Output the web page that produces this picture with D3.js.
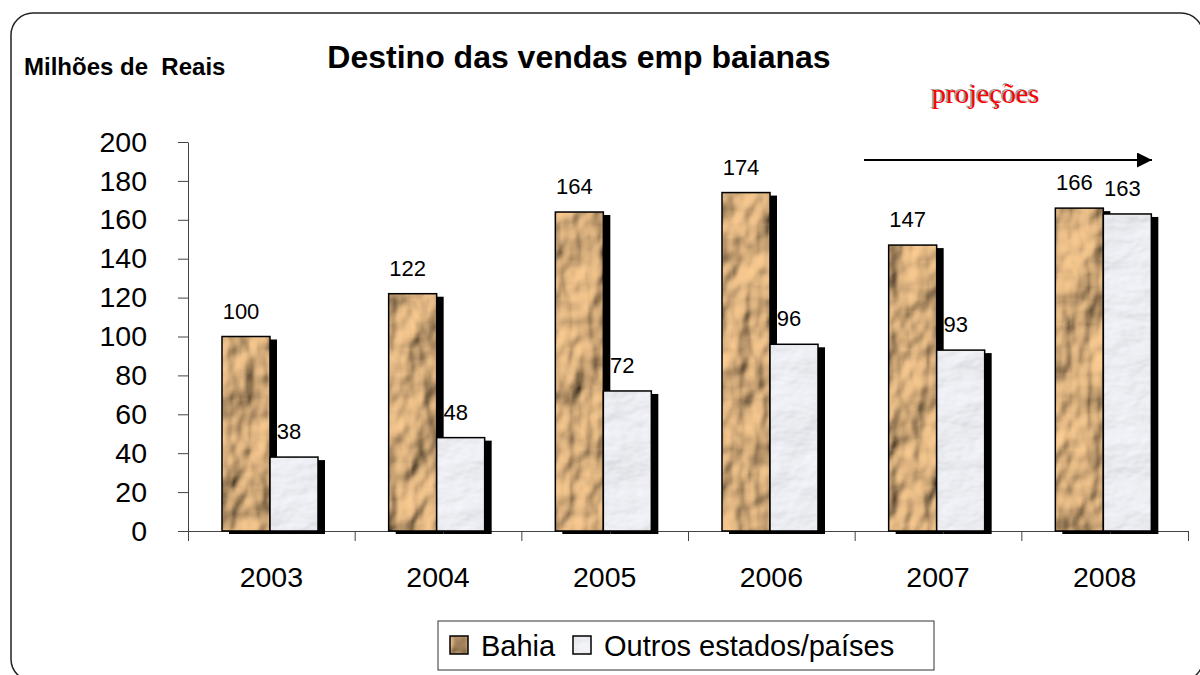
<!DOCTYPE html>
<html>
<head>
<meta charset="utf-8">
<script src="https://cdn.jsdelivr.net/npm/d3@7"></script>
<style>
  body { margin: 0; background: #fff; }
  svg { display: block; font-family: "Liberation Sans", Arial, sans-serif; }
</style>
</head>
<body>
<svg id="chart"></svg>
<script>
const years = ['2003', '2004', '2005', '2006', '2007', '2008'];
const bahia = [100, 122, 164, 174, 147, 166];
const outros = [38, 48, 72, 96, 93, 163];
const yTicks = [0, 20, 40, 60, 80, 100, 120, 140, 160, 180, 200];
const seriesNames = ['Bahia', 'Outros estados/países'];

const svgw = 1200;
const svgh = 675;
const svg = d3.select('#chart')
    .attr('width', svgw)
    .attr('height', svgh);

// textures: crumpled paper and marble
const defs = svg.append('defs');

const paper = defs.append('filter').attr('id', 'paper')
    .attr('x', 0).attr('y', 0).attr('width', 1).attr('height', 1);
paper.append('feTurbulence')
    .attr('type', 'fractalNoise')
    .attr('baseFrequency', '0.028 0.02')
    .attr('numOctaves', 3)
    .attr('seed', 7)
    .attr('result', 'n');
paper.append('feDiffuseLighting')
    .attr('in', 'n')
    .attr('surfaceScale', 10)
    .attr('diffuseConstant', 1.05)
    .attr('lighting-color', '#f8c990')
    .attr('result', 'l')
    .append('feDistantLight').attr('azimuth', 225).attr('elevation', 42);
paper.append('feComposite').attr('in', 'l').attr('in2', 'SourceGraphic').attr('operator', 'in');

const marble = defs.append('filter').attr('id', 'marble')
    .attr('x', 0).attr('y', 0).attr('width', 1).attr('height', 1);
marble.append('feTurbulence')
    .attr('type', 'fractalNoise')
    .attr('baseFrequency', '0.018 0.03')
    .attr('numOctaves', 4)
    .attr('seed', 3)
    .attr('result', 'n');
marble.append('feDiffuseLighting')
    .attr('in', 'n')
    .attr('surfaceScale', 3)
    .attr('diffuseConstant', 1)
    .attr('lighting-color', '#f6f7fc')
    .attr('result', 'l')
    .append('feDistantLight').attr('azimuth', 225).attr('elevation', 65);
marble.append('feComposite').attr('in', 'l').attr('in2', 'SourceGraphic').attr('operator', 'in');

const fills = ['url(#paper)', 'url(#marble)'];

// outer rounded frame
svg.append('rect')
    .attr('x', 11).attr('y', 13)
    .attr('width', 1192).attr('height', 668)
    .attr('rx', 22)
    .attr('fill', 'none')
    .attr('stroke', '#222')
    .attr('stroke-width', 1.5);

const xScale = d3.scaleBand()
    .domain(years)
    .range([188, 1188]);
const xInner = d3.scaleBand()
    .domain(seriesNames)
    .range([34, 130]);
const xEdges = d3.scaleLinear()
    .domain([0, years.length])
    .range([188, 1188]);
const yScale = d3.scaleLinear()
    .domain([0, 200])
    .range([531, 142]);

// y axis
const yAxis = d3.axisLeft(yScale)
    .tickValues(yTicks)
    .tickSize(10)
    .tickPadding(31)
    .tickSizeOuter(0);
const yg = svg.append('g')
    .attr('transform', 'translate(188,0)')
    .call(yAxis);
yg.selectAll('line, path').attr('stroke', '#444');
yg.selectAll('text')
    .attr('fill', '#000')
    .style('font-size', '28.5px')
    .style('font-family', '"Liberation Sans", Arial, sans-serif');

// x axis with ticks at category edges
const xAxis = d3.axisBottom(xEdges)
    .tickValues(d3.range(years.length + 1))
    .tickSize(10)
    .tickSizeOuter(0)
    .tickFormat('');
const xg = svg.append('g')
    .attr('transform', 'translate(0,531)')
    .call(xAxis);
xg.selectAll('line, path').attr('stroke', '#444');

svg.append('g').selectAll('text')
    .data(years)
    .join('text')
    .attr('x', d => xScale(d) + xScale.bandwidth() / 2)
    .attr('y', 587)
    .attr('text-anchor', 'middle')
    .style('font-size', '28.5px')
    .text(d => d);

// bars
const series = [bahia, outros];
const barGroup = svg.append('g');
years.forEach((yr, i) => {
    series.forEach((vals, s) => {
        const x0 = xScale(yr) + xInner(seriesNames[s]);
        const w = xInner.bandwidth();
        const top = yScale(vals[i]);
        const h = yScale(0) - top;
        barGroup.append('rect')
            .attr('x', x0 + 7).attr('y', top + 3)
            .attr('width', w).attr('height', h)
            .attr('fill', '#000');
        barGroup.append('rect')
            .attr('x', x0).attr('y', top)
            .attr('width', w).attr('height', h)
            .attr('fill', '#fff')
            .attr('filter', fills[s]);
        barGroup.append('rect')
            .attr('x', x0).attr('y', top)
            .attr('width', w).attr('height', h)
            .attr('fill', 'none')
            .attr('stroke', '#000')
            .attr('stroke-width', 1.5);
        barGroup.append('text')
            .attr('x', x0 + w / 2 - 5)
            .attr('y', top - 18)
            .attr('text-anchor', 'middle')
            .style('font-size', '22px')
            .text(vals[i]);
    });
});

// titles
svg.append('text')
    .attr('x', 579).attr('y', 68)
    .attr('text-anchor', 'middle')
    .style('font-size', '32px')
    .style('font-weight', 'bold')
    .text('Destino das vendas emp baianas');

svg.append('text')
    .attr('x', 24).attr('y', 75)
    .style('font-size', '24px')
    .style('font-weight', 'bold')
    .style('white-space', 'pre')
    .text('Milhões de  Reais');

// projections note + arrow
svg.append('text')
    .attr('x', 930).attr('y', 102)
    .style('font-family', '"Liberation Serif", "Times New Roman", serif')
    .style('font-size', '28px')
    .attr('fill', '#a0a0a0')
    .text('projeções');
svg.append('text')
    .attr('x', 932).attr('y', 103)
    .style('font-family', '"Liberation Serif", "Times New Roman", serif')
    .style('font-size', '28px')
    .attr('fill', '#ff0000')
    .text('projeções');

defs.append('marker')
    .attr('id', 'arrow')
    .attr('viewBox', '0 0 10 10')
    .attr('refX', 10).attr('refY', 5)
    .attr('markerWidth', 16).attr('markerHeight', 15)
    .attr('markerUnits', 'userSpaceOnUse')
    .attr('orient', 'auto')
    .append('path').attr('d', 'M0,0 L10,5 L0,10 Z').attr('fill', '#000');
svg.append('line')
    .attr('x1', 864).attr('y1', 160)
    .attr('x2', 1152).attr('y2', 160)
    .attr('stroke', '#000')
    .attr('stroke-width', 2)
    .attr('marker-end', 'url(#arrow)');

// legend
const legend = svg.append('g');
legend.append('rect')
    .attr('x', 438).attr('y', 621)
    .attr('width', 496).attr('height', 49)
    .attr('fill', '#fff')
    .attr('stroke', '#333')
    .attr('stroke-width', 1);
const legendX = [450, 573];
seriesNames.forEach((name, s) => {
    legend.append('rect')
        .attr('x', legendX[s]).attr('y', 636)
        .attr('width', 18).attr('height', 18)
        .attr('fill', '#fff')
        .attr('filter', fills[s]);
    legend.append('rect')
        .attr('x', legendX[s]).attr('y', 636)
        .attr('width', 18).attr('height', 18)
        .attr('fill', 'none')
        .attr('stroke', '#000')
        .attr('stroke-width', 1.5);
    legend.append('text')
        .attr('x', legendX[s] + 31).attr('y', 656)
        .style('font-size', '29px')
        .text(name);
});
</script>
</body>
</html>
